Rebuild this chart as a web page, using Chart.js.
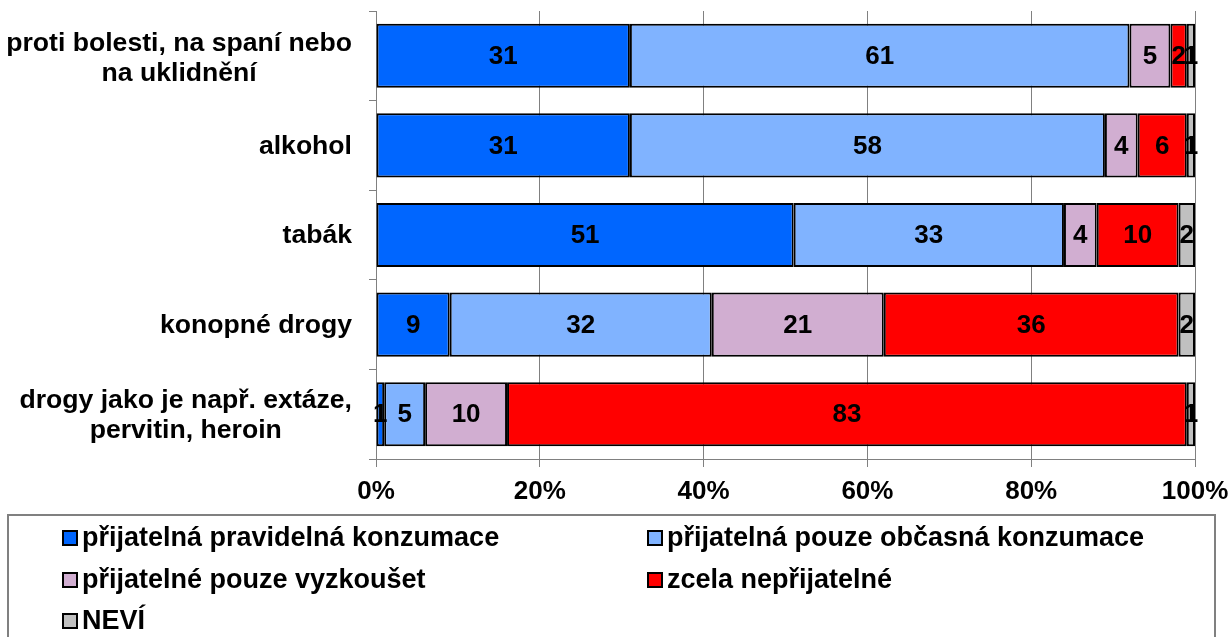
<!DOCTYPE html>
<html>
<head>
<meta charset="utf-8">
<script src="https://cdn.jsdelivr.net/npm/chart.js@4/dist/chart.umd.min.js"></script>
<style>
  body { margin: 0; background: #fff; }
  canvas { display: block; }
</style>
</head>
<body>
<canvas id="chart" width="1231" height="637"></canvas>
<script>
// kategorie (osa Y)
var categories = [
    ['proti bolesti, na spaní nebo', 'na uklidnění'],
    ['alkohol'],
    ['tabák'],
    ['konopné drogy'],
    ['drogy jako je např. extáze,', 'pervitin, heroin']
];

// hodnoty v %
var pravidelna = [31, 31, 51, 9, 1];
var obcasna    = [61, 58, 33, 32, 5];
var vyzkouset  = [5, 4, 4, 21, 10];
var neprijatel = [2, 6, 10, 36, 83];
var nevi       = [1, 1, 2, 2, 1];

var seriesNames = [
    'přijatelná pravidelná konzumace',
    'přijatelná pouze občasná konzumace',
    'přijatelné pouze vyzkoušet',
    'zcela nepřijatelné',
    'NEVÍ'
];
var seriesColors = ['#0066FF', '#80B3FF', '#D1AED1', '#FF0000', '#C0C0C0'];

var xTicks = [0, 20, 40, 60, 80, 100];

var FONT = '"Liberation Sans", Arial, sans-serif';

// popisky uvnitř pruhů
var valueLabels = {
    id: 'valueLabels',
    afterDatasetsDraw: function (chart) {
        var ctx = chart.ctx;
        ctx.save();
        ctx.font = 'bold 26px ' + FONT;
        ctx.fillStyle = '#000';
        ctx.textAlign = 'center';
        ctx.textBaseline = 'middle';
        chart.data.datasets.forEach(function (ds, i) {
            chart.getDatasetMeta(i).data.forEach(function (bar, j) {
                var p = bar.getCenterPoint();
                ctx.fillText(ds.data[j], p.x, p.y + 1);
            });
        });
        ctx.restore();
    }
};

// popisky os a legenda
var axisText = {
    id: 'axisText',
    afterDraw: function (chart) {
        var ctx = chart.ctx;
        var yScale = chart.scales.y;
        var xScale = chart.scales.x;
        ctx.save();
        ctx.fillStyle = '#000';
        ctx.textBaseline = 'middle';

        // osa Y - řádky vystředěné v bloku zarovnaném vpravo
        ctx.font = 'bold 26.6px ' + FONT;
        categories.forEach(function (lines, i) {
            var cy = yScale.getPixelForValue(i);
            var maxW = 0;
            lines.forEach(function (l) { maxW = Math.max(maxW, ctx.measureText(l).width); });
            var cx = 352 - maxW / 2;
            ctx.textAlign = 'center';
            var shift = lines.length > 1 && i === 0 ? 3 : 1;
            lines.forEach(function (l, k) {
                ctx.fillText(l, cx, cy + shift + (k - (lines.length - 1) / 2) * 30);
            });
        });

        // osa X
        ctx.font = 'bold 26px ' + FONT;
        ctx.textAlign = 'center';
        xScale.ticks.forEach(function (t) {
            ctx.fillText(t.value + '%', xScale.getPixelForValue(t.value), 492);
        });

        // legenda
        ctx.font = 'bold 27px ' + FONT;
        ctx.strokeStyle = '#808080';
        ctx.lineWidth = 2;
        ctx.strokeRect(8, 515, 1207, 140);
        var cols = [63, 648];
        var rows = [538, 580, 621];
        ctx.textAlign = 'left';
        chart.data.datasets.forEach(function (ds, i) {
            var x = cols[i % 2];
            var y = rows[Math.floor(i / 2)];
            ctx.fillStyle = ds.backgroundColor;
            ctx.fillRect(x, y - 7, 14, 14);
            ctx.strokeStyle = '#000';
            ctx.lineWidth = 2;
            ctx.strokeRect(x, y - 7, 14, 14);
            ctx.fillStyle = '#000';
            ctx.fillText(ds.label, x + 19, y + 1);
        });
        ctx.restore();
    }
};

var seriesData = [pravidelna, obcasna, vyzkouset, neprijatel, nevi];

var ctx = document.getElementById('chart').getContext('2d');
var chart = new Chart(ctx, {
    type: 'bar',
    data: {
        labels: categories,
        datasets: seriesData.map(function (d, i) {
            return {
                label: seriesNames[i],
                data: d,
                backgroundColor: seriesColors[i],
                borderColor: '#000',
                borderWidth: 2,
                borderSkipped: false,
                barPercentage: 0.715,
                categoryPercentage: 1
            };
        })
    },
    options: {
        indexAxis: 'y',
        responsive: false,
        animation: false,
        layout: { padding: { top: 11, right: 36, bottom: 0, left: 0 } },
        plugins: {
            legend: { display: false },
            tooltip: { enabled: false }
        },
        scales: {
            x: {
                stacked: true,
                min: 0,
                max: 100,
                afterBuildTicks: function (s) {
                    s.ticks = xTicks.map(function (v) { return { value: v }; });
                },
                ticks: { display: false },
                grid: { color: '#808080', lineWidth: 1, tickLength: 8 },
                border: { color: '#808080', width: 1 },
                afterFit: function (s) { s.height = 637 - 459; }
            },
            y: {
                stacked: true,
                ticks: { display: false },
                grid: { drawOnChartArea: false, color: '#808080', tickLength: 7, offset: true },
                border: { color: '#808080', width: 1 },
                afterFit: function (s) { s.width = 376; }
            }
        }
    },
    plugins: [valueLabels, axisText]
});
</script>
</body>
</html>
